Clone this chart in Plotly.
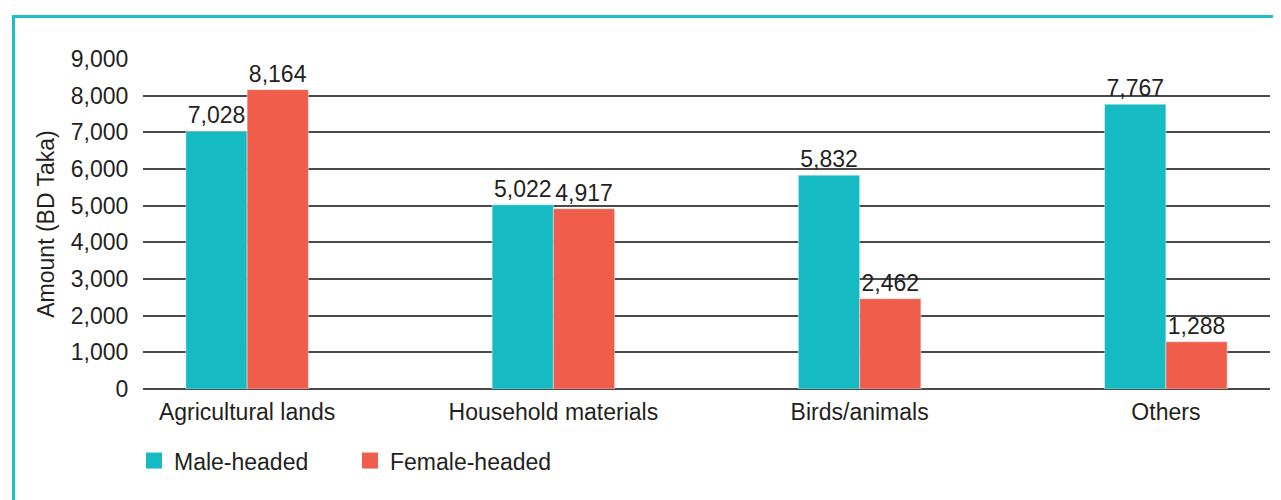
import plotly.graph_objects as go

categories = ["Agricultural lands", "Household materials", "Birds/animals", "Others"]
male_headed = [7028, 5022, 5832, 7767]
female_headed = [8164, 4917, 2462, 1288]
y_ticks = [0, 1000, 2000, 3000, 4000, 5000, 6000, 7000, 8000, 9000]
y_tick_labels = ["0", "1,000", "2,000", "3,000", "4,000", "5,000", "6,000", "7,000", "8,000", "9,000"]

TEAL = "#15BAC3"
RED = "#F05E4B"
TXT = "#231F20"
FONT = "Liberation Sans, Arial, sans-serif"
FS = 23

fig = go.Figure()
fig.add_trace(go.Bar(
    x=categories, y=male_headed, name="Male-headed", marker_color=TEAL,
    text=[f"{v:,}" for v in male_headed], textposition="outside",
    textfont=dict(size=FS, color=TXT, family=FONT), cliponaxis=False,
    constraintext="none", showlegend=False,
))
fig.add_trace(go.Bar(
    x=categories, y=female_headed, name="Female-headed", marker_color=RED,
    text=[f"{v:,}" for v in female_headed], textposition="outside",
    textfont=dict(size=FS, color=TXT, family=FONT), cliponaxis=False,
    constraintext="none", showlegend=False,
))
# legend entries with larger square swatches
fig.add_trace(go.Scatter(x=[None], y=[None], mode="markers", name="Male-headed",
                         marker=dict(symbol="square", size=17, color=TEAL)))
fig.add_trace(go.Scatter(x=[None], y=[None], mode="markers", name="Female-headed",
                         marker=dict(symbol="square", size=17, color=RED)))

# page body has an 8px margin; figure is sized/offset to compensate
fig.update_layout(
    width=1273, height=492,
    margin=dict(l=135, r=11, t=51, b=111),
    paper_bgcolor="white", plot_bgcolor="white",
    barmode="group", bargap=0.6, bargroupgap=0,
    font=dict(family=FONT, size=FS, color=TXT),
    showlegend=True,
    legend=dict(orientation="h", x=-0.008, xanchor="left", y=-0.217, yanchor="middle",
                font=dict(size=FS, color=TXT), entrywidth=171, entrywidthmode="pixels",
                itemsizing="trace"),
    xaxis=dict(range=[-0.34, 3.34], showgrid=False, showline=False, zeroline=False,
               ticks="outside", ticklen=2, tickcolor="rgba(0,0,0,0)",
               tickfont=dict(size=FS, color=TXT)),
    yaxis=dict(range=[0, 9000], tickvals=y_ticks, ticktext=y_tick_labels,
               showgrid=True, gridcolor="#4a4a4a", gridwidth=1.5,
               zeroline=True, zerolinecolor="#4a4a4a", zerolinewidth=1.5,
               showline=False, ticks="outside", ticklen=9, tickcolor="rgba(0,0,0,0)",
               tickfont=dict(size=FS, color=TXT),
               title=dict(text="Amount (BD Taka)", font=dict(size=FS, color=TXT), standoff=9)),
    shapes=[
        dict(type="line", xref="paper", yref="paper", x0=-0.1149, x1=-0.1149, y0=1.1288, y1=-0.5,
             line=dict(color="#1DBEC6", width=3)),
        dict(type="line", xref="paper", yref="paper", x0=-0.1162, x1=1.05, y0=1.1288, y1=1.1288,
             line=dict(color="#1DBEC6", width=3)),
    ],
)

fig.write_html("out.html")
